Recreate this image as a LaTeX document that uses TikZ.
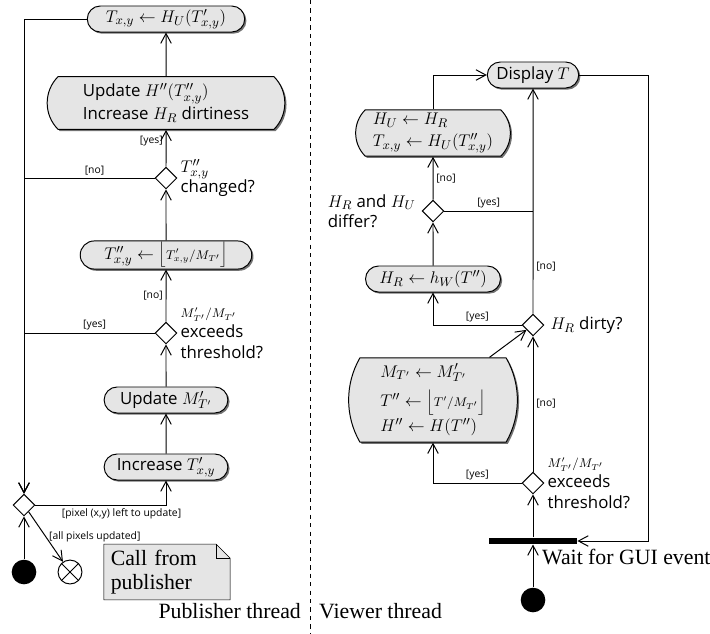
\documentclass[tikz,border=0pt]{standalone}
\usepackage{fontspec}
\setmainfont{Liberation Serif}
\setsansfont[Scale=0.92]{Open Sans}
\usetikzlibrary{positioning}
\usetikzlibrary{shapes.geometric, shapes.misc, arrows.meta, shadows, backgrounds}

\tikzset{
  act/.style={rounded rectangle, draw, fill=black!10, inner xsep=2pt, inner ysep=1pt,
    minimum height=18.5pt, font=\sffamily\fontsize{13}{16}\selectfont, align=left,
    drop shadow={shadow xshift=1.2pt, shadow yshift=-1.2pt, fill=black, opacity=.55}},
  decision/.style={diamond, draw, fill=white, minimum size=15.5pt, inner sep=0pt},
  cond/.style={font=\sffamily\fontsize{13}{14.5}\selectfont, align=left, inner sep=1pt},
  lbl/.style={font=\sffamily\fontsize{8}{9}\selectfont, inner sep=2pt},
  serif/.style={font=\rmfamily\fontsize{15.5}{17}\selectfont},
  arr/.style={-{Straight Barb[length=7pt, width=7.5pt]}},
  initial/.style={circle, fill=black, minimum size=17.5pt, inner sep=0pt},
  final/.style={circle, draw, fill=white, minimum size=17pt, inner sep=0pt,
    path picture={\draw (path picture bounding box.north west) -- (path picture bounding box.south east)
      (path picture bounding box.north east) -- (path picture bounding box.south west);}},
  syncbar/.style={rectangle, fill=black, minimum width=62.5pt, minimum height=4.3pt, inner sep=0pt}
}

\begin{document}
\begin{tikzpicture}[x=0.025cm, y=-0.025cm, line width=0.7pt]
\useasboundingbox (0,0) rectangle (710,633);

% publisher thread
\node[act, minimum width=116pt] (setT) at (166,19) {$T_{x,y} \leftarrow H_U(T'_{x,y})$};
\node[act, minimum width=173pt, minimum height=37.6pt, rounded rectangle arc length=90] (updH) at (166,103)
  {Update $H''(T''_{x,y})$\\Increase $H_R$ dirtiness};
\node[decision] (chg) at (166,178) {};
\node[cond, right=1pt of chg] (chgq) {$T''_{x,y}$\\changed?};
\node[act, minimum width=126pt] (quant) at (166,255)
  {$T''_{x,y} \leftarrow \Big\lfloor{\scriptstyle T'_{x,y}/M_{T'}}\Big\rfloor$};
\node[decision] (thr) at (166,333) {};
\node[cond, right=1pt of thr] (thrq) {$\scriptstyle M'_{T'}/M_{T'}$\\exceeds\\threshold?};
\node[act, minimum width=92pt] (updM) at (166,400) {Update $M'_{T'}$};
\node[act, minimum width=92pt] (incT) at (166,467) {Increase $T'_{x,y}$};
\node[decision] (loop) at (24,505) {};
\node[initial] (pstart) at (24,572) {};
\node[final] (pend) at (70,572) {};
\node[serif, align=left, inner xsep=4.5pt, inner ysep=3pt, text width=80pt, minimum height=39pt] (note) at (167,572)
  {Call from\\publisher};

\draw[arr] (updH) -- (setT);
\draw[arr] (chg) -- node[lbl, left, pos=.7] {[yes]} (updH);
\draw[arr] (quant) -- (chg);
\draw[arr] (thr) -- node[lbl, left, pos=.5] {[no]} (quant);
\draw[arr] (updM) -- (thr);
\draw[arr] (incT) -- (updM);
\draw[arr] (setT.west) -| (loop.north);
\draw[arr] (chg.west) -| node[lbl, above, pos=.23] {[no]} (loop.north);
\draw[arr] (thr.west) -| node[lbl, above, pos=.23] {[yes]} (loop.north);
\draw[arr] (loop.east) -| node[lbl, below, pos=.33] {[pixel (x,y) left to update]} (incT.south);
\draw[arr] (pstart) -- (loop);
\draw[arr] (loop) -- node[lbl, right, pos=.5] {[all pixels updated]} (pend);

\begin{scope}[on background layer]
  \fill[black, opacity=.55, xshift=1.2pt, yshift=-1.2pt] (note.north west) -- ([xshift=-10pt]note.north east)
    -- ([yshift=-10pt]note.north east) -- (note.south east) -- (note.south west) -- cycle;
  \draw[fill=black!10] (note.north west) -- ([xshift=-10pt]note.north east)
    -- ([yshift=-10pt]note.north east) -- (note.south east) -- (note.south west) -- cycle;
  \draw ([xshift=-10pt]note.north east) |- ([yshift=-10pt]note.north east);
\end{scope}

% swimlane
\draw[dash pattern=on 3pt off 3pt] (310,0) -- (310,633);
\node[serif, anchor=east] (pubth) at (306,611) {Publisher thread};
\node[serif, anchor=west] (viewth) at (314,611) {Viewer thread};

% viewer thread
\node[act, minimum width=69pt] (disp) at (533,75) {Display $T$};
\node[act, minimum width=114pt, minimum height=33pt, rounded rectangle arc length=90] (setH) at (433,133)
  {$H_U \leftarrow H_R$\\$T_{x,y} \leftarrow H_U(T''_{x,y})$};
\node[decision] (diff) at (433,211) {};
\node[cond, left=3pt of diff] (diffq) {$H_R$ and $H_U$\\differ?};
\node[act, minimum width=100pt] (hashR) at (433,279) {$H_R \leftarrow h_W(T'')$};
\node[decision] (dirty) at (533,325) {};
\node[cond, right=3pt of dirty] (dirtyq) {$H_R$ dirty?};
\node[act, minimum width=113pt, minimum height=60pt, rounded rectangle arc length=60] (reqnt) at (433,400)
  {$M_{T'} \leftarrow M'_{T'}$\\[5pt]$T'' \leftarrow \Big\lfloor{\scriptstyle T'/M_{T'}}\Big\rfloor$\\[2pt]$H'' \leftarrow H(T'')$};
\node[decision] (vthr) at (533,483) {};
\node[cond, right=1pt of vthr] (vthrq) {$\scriptstyle M'_{T'}/M_{T'}$\\exceeds\\threshold?};
\node[syncbar] (gui) at (533,541) {};
\node[serif, anchor=west] (guiq) at (537,557) {Wait for GUI event};
\node[initial] (vstart) at (533,600) {};
\coordinate (back) at (648,541);

\draw[arr] (vstart) -- (gui);
\draw[arr] (gui) -- (vthr);
\draw[arr] (disp.east) -| (back) -- (gui.east);
\draw[arr] (vthr.west) -| node[lbl, above, pos=.25] {[yes]} (reqnt.south);
\draw[arr] (vthr) -- node[lbl, right, pos=.5] {[no]} (dirty);
\draw[arr] ([xshift=-12pt]reqnt.north east) -- (dirty);
\draw[arr] (dirty.west) -| node[lbl, above, pos=.25] {[yes]} (hashR.south);
\draw[arr] (dirty) -- node[lbl, right, pos=.21] {[no]} (disp);
\draw[arr] (hashR) -- (diff);
\draw[arr] (diff) -- node[lbl, right, pos=.5] {[no]} (setH);
\draw (diff.east) -- node[lbl, above] {[yes]} (diff.east -| dirty.north);
\draw[arr] (setH.north) |- (disp.west);

\end{tikzpicture}
\end{document}
